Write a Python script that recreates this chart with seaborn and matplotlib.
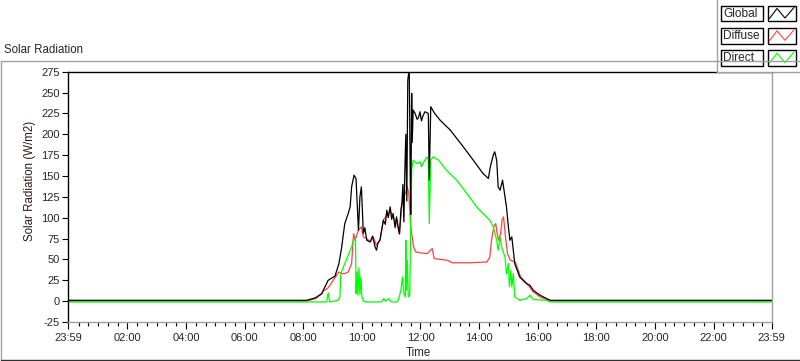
import numpy as np
import pandas as pd
import matplotlib.pyplot as plt
from matplotlib.lines import Line2D
from matplotlib.patches import Rectangle
from matplotlib.ticker import FixedLocator
import seaborn as sns

# readings taken off the graph (time of day, W/m2)
global_time = ["00:00", "08:07", "08:25", "08:38", "08:41", "08:51", "09:05", "09:13", "09:18", "09:25",
               "09:32", "09:36", "09:39", "09:44", "09:48", "09:53", "09:56", "09:59", "10:03", "10:06",
               "10:10", "10:17", "10:22", "10:27", "10:30", "10:33", "10:37", "10:44", "10:48", "10:51",
               "10:54", "10:58", "11:01", "11:04", "11:08", "11:11", "11:14", "11:17", "11:20", "11:22",
               "11:24", "11:26", "11:28", "11:30", "11:32", "11:34", "11:37", "11:39", "11:40", "11:42",
               "11:43", "11:45", "11:49", "11:53", "11:56", "11:59", "12:02", "12:05", "12:09", "12:16",
               "12:18", "12:21", "12:29", "12:40", "13:01", "13:25", "13:48", "14:08", "14:19", "14:23",
               "14:29", "14:32", "14:36", "14:39", "14:43", "14:48", "14:51", "14:56", "15:00", "15:03",
               "15:07", "15:10", "15:13", "15:23", "15:30", "15:37", "15:44", "15:51", "16:05", "16:22",
               "16:26", "23:59"]
global_vals = [1, 1, 4, 9, 13, 25, 30, 45, 62, 93,
               105, 113, 137, 151, 147, 85, 125, 137, 81, 88,
               73, 71, 78, 65, 61, 70, 73, 97, 92, 109,
               100, 113, 98, 105, 88, 101, 90, 81, 110, 117,
               140, 95, 157, 200, 120, 265, 278, 150, 104, 249,
               190, 229, 225, 218, 220, 227, 216, 222, 227, 225,
               145, 233, 225, 217, 205, 187, 169, 153, 147, 161,
               175, 179, 169, 137, 133, 145, 133, 113, 89, 73,
               77, 61, 45, 29, 25, 21, 19, 13, 7, 2,
               1, 1]

diffuse_time = ["00:00", "08:07", "08:25", "08:38", "08:41", "08:51", "09:05", "09:13", "09:19", "09:25",
                "09:32", "09:39", "09:43", "09:46", "09:53", "09:59", "10:03", "10:10", "10:17", "10:23",
                "10:30", "10:37", "10:44", "10:51", "10:58", "11:04", "11:11", "11:17", "11:22", "11:33",
                "11:36", "11:40", "11:46", "11:50", "11:59", "12:14", "12:24", "12:28", "12:55", "13:05",
                "13:42", "14:16", "14:22", "14:25", "14:30", "14:34", "14:37", "14:40", "14:44", "14:47",
                "14:50", "14:54", "14:58", "15:04", "15:14", "15:25", "15:38", "15:51", "16:05", "16:22",
                "16:26", "23:59"]
diffuse_vals = [0, 0, 3, 9, 12, 16, 28, 35, 33, 33,
                35, 45, 81, 73, 85, 89, 77, 75, 71, 77,
                67, 73, 97, 103, 108, 100, 95, 80, 117, 137,
                129, 89, 65, 59, 58, 57, 63, 51, 49, 46,
                46, 47, 53, 71, 89, 93, 81, 73, 81, 97,
                101, 77, 57, 49, 47, 29, 21, 11, 5, 1,
                0, 0]

direct_time = ["00:00", "08:07", "08:48", "08:51", "08:54", "09:11", "09:15", "09:17", "09:25", "09:32",
               "09:39", "09:43", "09:47", "09:48", "09:50", "09:52", "09:54", "09:56", "09:58", "10:00",
               "10:03", "10:10", "10:40", "10:45", "10:48", "10:55", "11:00", "11:12", "11:15", "11:20",
               "11:23", "11:26", "11:29", "11:30", "11:31", "11:33", "11:35", "11:38", "11:40", "11:42",
               "11:45", "11:52", "11:59", "12:02", "12:09", "12:13", "12:16", "12:18", "12:21", "12:26",
               "12:37", "12:53", "13:14", "13:35", "13:55", "14:08", "14:22", "14:29", "14:36", "14:39",
               "14:43", "14:46", "14:53", "14:56", "15:00", "15:02", "15:05", "15:07", "15:10", "15:13",
               "15:23", "15:37", "15:44", "15:51", "16:18", "16:25", "23:59"]
direct_vals = [-1, -1, -1, 10, -1, 1, 5, 33, 45, 55,
               65, 73, 75, 9, 35, 7, 40, 8, 29, 6,
               0, -1, -1, 3, 0, 3, -1, -1, 2, 13,
               29, 9, 5, 73, 13, 49, 5, 7, 89, 157,
               169, 165, 167, 161, 169, 173, 169, 93, 169, 173,
               169, 157, 145, 129, 113, 105, 97, 89, 73, 61,
               77, 65, 53, 33, 45, 17, 37, 17, 33, 5,
               1, 3, 7, 2, 1, -1, -1]

series_names = ["Global", "Diffuse", "Direct"]
series_colors = {"Global": "#000000", "Diffuse": "#ff4040", "Direct": "#00ff00"}
y_ticks = [-25, 0, 25, 50, 75, 100, 125, 150, 175, 200, 225, 250, 275]
x_labels = ["23:59", "02:00", "04:00", "06:00", "08:00", "10:00", "12:00",
            "14:00", "16:00", "18:00", "20:00", "22:00", "23:59"]


def to_hours(times):
    return [pd.to_timedelta(t + ":00").total_seconds() / 3600 for t in times]


frames = []
for name, t, v in [("Diffuse", diffuse_time, diffuse_vals),
                   ("Direct", direct_time, direct_vals),
                   ("Global", global_time, global_vals)]:
    frames.append(pd.DataFrame({"hours": to_hours(t), "value": v, "series": name}))
df = pd.concat(frames, ignore_index=True)

sns.set_style("white")
plt.rcParams["font.family"] = ["Liberation Sans", "DejaVu Sans"]

W, H = 800, 361
fig = plt.figure(figsize=(8, 3.61), dpi=100)
fig.patch.set_facecolor("white")

# outer panel frame
fig.add_artist(Line2D([1 / W, 1 / W], [1 - 61 / H, 1 - 359.5 / H], color="#a0a0a0", lw=1))
fig.add_artist(Line2D([1 / W, 1], [1 - 61 / H, 1 - 61 / H], color="#a0a0a0", lw=1))
fig.add_artist(Line2D([1 / W, 1], [1 - 359.5 / H, 1 - 359.5 / H], color="#303030", lw=1))

ax = fig.add_axes([68.3 / W, 1 - 322 / H, 703.4 / W, 250.3 / H])
sns.lineplot(data=df, x="hours", y="value", hue="series",
             hue_order=["Diffuse", "Direct", "Global"], palette=series_colors,
             estimator=None, sort=False, linewidth=0.9, legend=False, ax=ax)

ax.set_xlim(-1 / 60, 24 - 1 / 60)
ax.set_ylim(-25, 275)
major = [-1 / 60] + list(range(2, 23, 2)) + [24 - 1 / 60]
ax.xaxis.set_major_locator(FixedLocator(major))
ax.set_xticklabels(x_labels)
minor = [m / 3 for m in range(1, 72) if m % 6 != 0]
ax.xaxis.set_minor_locator(FixedLocator(minor))
ax.set_yticks(y_ticks)
ax.set_yticklabels([str(v) for v in y_ticks])
ax.tick_params(axis="x", which="major", direction="out", length=5, width=0.8,
               color="black", labelsize=8, pad=3)
ax.tick_params(axis="x", which="minor", direction="out", length=3, width=0.8, color="black")
ax.tick_params(axis="y", direction="out", length=4, width=0.8, color="black",
               labelsize=8, pad=2)
ax.tick_params(bottom=True, left=True, which="both")
for side, col in [("top", "black"), ("left", "black"), ("bottom", "#a0a0a0"), ("right", "#a0a0a0")]:
    ax.spines[side].set_visible(True)
    ax.spines[side].set_color(col)
    ax.spines[side].set_linewidth(1)
ax.set_xlabel("")
ax.set_ylabel("")
ax.grid(False)

fig.text(4 / W, 1 - 50 / H, "Solar Radiation", fontsize=8.3, ha="left", va="center")
fig.text(30 / W, 1 - 181 / H, "Solar Radiation (W/m2)", fontsize=8.3,
         rotation=90, ha="center", va="center", color="#2a1a10")
fig.text(418 / W, 1 - 353 / H, "Time", fontsize=8.3, ha="center", va="center")

# legend panel in the top right corner
lg = fig.add_axes([716.7 / W, 1 - 72 / H, 83.3 / W, 72 / H])
lg.set_xlim(716.7, 800)
lg.set_ylim(72, 0)
lg.set_xticks([])
lg.set_yticks([])
lg.set_facecolor("white")
for side in ["top", "right"]:
    lg.spines[side].set_visible(False)
for side in ["left", "bottom"]:
    lg.spines[side].set_color("#a0a0a0")
    lg.spines[side].set_linewidth(1)
for i, name in enumerate(series_names):
    y0 = 5.7 + i * 22.3
    lg.add_patch(Rectangle((721, y0), 42.3, 15.5, fill=False, ec="black", lw=1))
    lg.add_patch(Rectangle((767.7, y0), 28.3, 15.5, fill=False, ec="black", lw=1))
    lg.text(723, y0 + 8, name, fontsize=8.6, ha="left", va="center")
    lg.plot([769.5, 777, 785, 794], [y0 + 12.8, y0 + 2.8, y0 + 12.3, y0 + 1.8],
            color=series_colors[name], lw=0.8)

fig.savefig("out.png", dpi=100, facecolor="white")
